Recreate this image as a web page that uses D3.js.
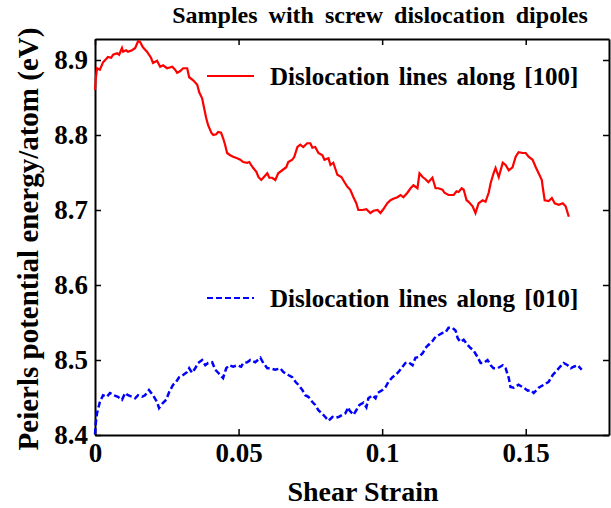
<!DOCTYPE html>
<html>
<head>
<meta charset="utf-8">
<script src="https://cdn.jsdelivr.net/npm/d3@7"></script>
<style>
  body { margin: 0; background: #fff; }
  text { font-family: "Liberation Serif", "Times New Roman", serif; font-weight: bold; }
</style>
</head>
<body>
<div id="container"></div>
<script>
/* CONSTANTS AND GLOBALS */
const width = 611;
const height = 508;
const margin = { top: 39, right: 2, bottom: 73, left: 95 };

/* DATA */
const strain100 = [0, 0.0003, 0.0007, 0.0017, 0.0028, 0.0038, 0.0045, 0.0056, 0.0063, 0.0077, 0.0084, 0.0094, 0.0098, 0.0108, 0.0115, 0.0129, 0.0140, 0.0150, 0.0157, 0.0167, 0.0181, 0.0195, 0.0202, 0.0216, 0.0227, 0.0237, 0.0251, 0.0269, 0.0279, 0.0286, 0.0296, 0.0307, 0.0321, 0.0328, 0.0342, 0.0356, 0.0363, 0.0373, 0.0380, 0.0387, 0.0394, 0.0405, 0.0412, 0.0422, 0.0429, 0.0439, 0.0446, 0.0453, 0.0460, 0.0471, 0.0481, 0.0495, 0.0506, 0.0516, 0.0530, 0.0537, 0.0551, 0.0562, 0.0569, 0.0579, 0.0586, 0.0600, 0.0607, 0.0617, 0.0628, 0.0638, 0.0652, 0.0666, 0.0673, 0.0687, 0.0694, 0.0705, 0.0715, 0.0725, 0.0739, 0.0750, 0.0757, 0.0767, 0.0778, 0.0792, 0.0799, 0.0813, 0.0820, 0.0830, 0.0844, 0.0858, 0.0869, 0.0879, 0.0889, 0.0900, 0.0910, 0.0917, 0.0931, 0.0945, 0.0959, 0.0970, 0.0984, 0.0994, 0.1004, 0.1018, 0.1029, 0.1039, 0.1053, 0.1064, 0.1074, 0.1088, 0.1099, 0.1109, 0.1123, 0.1130, 0.1141, 0.1151, 0.1161, 0.1175, 0.1186, 0.1196, 0.1210, 0.1217, 0.1231, 0.1249, 0.1259, 0.1266, 0.1277, 0.1284, 0.1294, 0.1301, 0.1315, 0.1325, 0.1336, 0.1350, 0.1360, 0.1371, 0.1378, 0.1388, 0.1395, 0.1406, 0.1420, 0.1430, 0.1441, 0.1454, 0.1465, 0.1475, 0.1489, 0.1500, 0.1510, 0.1524, 0.1535, 0.1545, 0.1556, 0.1559, 0.1566, 0.1580, 0.1591, 0.1601, 0.1615, 0.1629, 0.1639, 0.1650];
const energy100 = [8.860, 8.876, 8.889, 8.887, 8.897, 8.901, 8.904, 8.903, 8.907, 8.909, 8.907, 8.916, 8.911, 8.913, 8.911, 8.913, 8.916, 8.925, 8.924, 8.917, 8.911, 8.903, 8.896, 8.899, 8.891, 8.893, 8.889, 8.891, 8.887, 8.883, 8.885, 8.889, 8.889, 8.877, 8.873, 8.867, 8.857, 8.849, 8.836, 8.823, 8.813, 8.803, 8.800, 8.801, 8.804, 8.803, 8.796, 8.787, 8.776, 8.773, 8.771, 8.769, 8.767, 8.764, 8.763, 8.764, 8.756, 8.751, 8.744, 8.740, 8.743, 8.749, 8.743, 8.743, 8.740, 8.749, 8.753, 8.757, 8.764, 8.767, 8.771, 8.784, 8.787, 8.784, 8.789, 8.789, 8.783, 8.784, 8.776, 8.773, 8.767, 8.769, 8.760, 8.763, 8.747, 8.744, 8.737, 8.731, 8.727, 8.717, 8.709, 8.700, 8.700, 8.701, 8.696, 8.699, 8.700, 8.696, 8.701, 8.709, 8.713, 8.715, 8.717, 8.720, 8.717, 8.723, 8.729, 8.733, 8.729, 8.749, 8.744, 8.741, 8.737, 8.743, 8.729, 8.729, 8.727, 8.723, 8.720, 8.720, 8.725, 8.724, 8.729, 8.727, 8.713, 8.711, 8.705, 8.696, 8.709, 8.713, 8.711, 8.723, 8.736, 8.749, 8.756, 8.744, 8.763, 8.760, 8.753, 8.757, 8.771, 8.777, 8.776, 8.776, 8.771, 8.767, 8.757, 8.749, 8.740, 8.731, 8.713, 8.712, 8.716, 8.709, 8.707, 8.709, 8.705, 8.691];

const strain010 = [0, 0.0003, 0.0007, 0.0017, 0.0028, 0.0042, 0.0052, 0.0066, 0.0080, 0.0094, 0.0105, 0.0115, 0.0129, 0.0140, 0.0150, 0.0164, 0.0174, 0.0188, 0.0202, 0.0216, 0.0223, 0.0237, 0.0248, 0.0258, 0.0272, 0.0283, 0.0293, 0.0307, 0.0321, 0.0328, 0.0338, 0.0349, 0.0359, 0.0373, 0.0384, 0.0394, 0.0408, 0.0419, 0.0429, 0.0446, 0.0457, 0.0467, 0.0481, 0.0495, 0.0509, 0.0516, 0.0530, 0.0541, 0.0558, 0.0576, 0.0586, 0.0600, 0.0610, 0.0628, 0.0645, 0.0656, 0.0673, 0.0687, 0.0698, 0.0708, 0.0722, 0.0732, 0.0743, 0.0757, 0.0767, 0.0778, 0.0792, 0.0802, 0.0813, 0.0827, 0.0837, 0.0848, 0.0862, 0.0872, 0.0882, 0.0886, 0.0900, 0.0910, 0.0921, 0.0935, 0.0945, 0.0952, 0.0966, 0.0977, 0.0984, 0.1001, 0.1012, 0.1022, 0.1036, 0.1046, 0.1057, 0.1071, 0.1081, 0.1092, 0.1106, 0.1116, 0.1127, 0.1141, 0.1151, 0.1161, 0.1175, 0.1186, 0.1196, 0.1210, 0.1221, 0.1231, 0.1245, 0.1256, 0.1263, 0.1273, 0.1284, 0.1298, 0.1308, 0.1318, 0.1332, 0.1343, 0.1353, 0.1367, 0.1378, 0.1388, 0.1402, 0.1420, 0.1430, 0.1441, 0.1447, 0.1458, 0.1475, 0.1493, 0.1507, 0.1517, 0.1528, 0.1545, 0.1563, 0.1580, 0.1594, 0.1604, 0.1615, 0.1632, 0.1646, 0.1657, 0.1667, 0.1681, 0.1695];
const energy010 = [8.401, 8.417, 8.429, 8.444, 8.453, 8.451, 8.456, 8.453, 8.451, 8.447, 8.456, 8.453, 8.451, 8.449, 8.453, 8.451, 8.453, 8.460, 8.453, 8.444, 8.436, 8.443, 8.447, 8.457, 8.467, 8.471, 8.477, 8.480, 8.484, 8.489, 8.483, 8.489, 8.496, 8.500, 8.493, 8.496, 8.497, 8.487, 8.483, 8.476, 8.489, 8.493, 8.491, 8.493, 8.491, 8.496, 8.497, 8.500, 8.497, 8.503, 8.496, 8.489, 8.489, 8.487, 8.489, 8.484, 8.480, 8.477, 8.471, 8.467, 8.460, 8.453, 8.451, 8.444, 8.440, 8.433, 8.428, 8.424, 8.419, 8.424, 8.423, 8.424, 8.427, 8.429, 8.437, 8.433, 8.427, 8.433, 8.440, 8.443, 8.437, 8.449, 8.453, 8.449, 8.456, 8.460, 8.464, 8.471, 8.477, 8.480, 8.484, 8.491, 8.496, 8.497, 8.493, 8.503, 8.504, 8.509, 8.516, 8.520, 8.525, 8.531, 8.533, 8.536, 8.537, 8.543, 8.543, 8.539, 8.529, 8.524, 8.527, 8.520, 8.516, 8.513, 8.504, 8.496, 8.496, 8.500, 8.493, 8.489, 8.489, 8.493, 8.489, 8.476, 8.464, 8.463, 8.467, 8.463, 8.459, 8.460, 8.456, 8.463, 8.467, 8.471, 8.480, 8.484, 8.489, 8.496, 8.493, 8.489, 8.491, 8.493, 8.487];

const xTicks = [0, 0.05, 0.1, 0.15];
const yTicks = [8.4, 8.5, 8.6, 8.7, 8.8, 8.9];
const seriesNames = ["Dislocation lines along [100]", "Dislocation lines along [010]"];

/* SCALES */
const svg = d3.select("#container")
  .append("svg")
  .attr("width", width)
  .attr("height", height);

const xScale = d3.scaleLinear()
  .domain([0, 0.179])
  .range([margin.left, width - margin.right]);

const yScale = d3.scaleLinear()
  .domain([8.4, 8.928])
  .range([height - margin.bottom, margin.top]);

/* AXES */
const fmtX = d => d === 0 ? "0" : String(d);

svg.append("g")
  .attr("class", "axis")
  .attr("transform", `translate(0, ${height - margin.bottom})`)
  .call(d3.axisBottom(xScale).tickValues(xTicks).tickFormat(fmtX).tickSizeInner(-6).tickSizeOuter(0).tickPadding(8));

svg.append("g")
  .attr("transform", `translate(0, ${margin.top})`)
  .call(d3.axisTop(xScale).tickValues(xTicks).tickFormat("").tickSizeInner(-6).tickSizeOuter(0));

svg.append("g")
  .attr("class", "axis")
  .attr("transform", `translate(${margin.left}, 0)`)
  .call(d3.axisLeft(yScale).tickValues(yTicks).tickFormat(d3.format(".1f")).tickSizeInner(-6).tickSizeOuter(0).tickPadding(7));

svg.append("g")
  .attr("transform", `translate(${width - margin.right}, 0)`)
  .call(d3.axisRight(yScale).tickValues(yTicks).tickFormat("").tickSizeInner(-6).tickSizeOuter(0));

svg.selectAll(".domain").attr("stroke", "#000").attr("stroke-width", 2);
svg.selectAll(".tick line").attr("stroke", "#000").attr("stroke-width", 1.5);
svg.selectAll(".axis text")
  .attr("fill", "#000")
  .style("font-size", "27px")
  .style("font-family", "'Liberation Serif', serif")
  .style("font-weight", "bold");

/* LINES */
const line = d3.line()
  .x(d => xScale(d[0]))
  .y(d => yScale(d[1]));

const red = d3.zip(strain100, energy100);
const blue = d3.zip(strain010, energy010);

svg.append("path")
  .datum(red)
  .attr("fill", "none")
  .attr("stroke", "#ff0000")
  .attr("stroke-width", 2.2)
  .attr("d", line);

svg.append("path")
  .datum(blue)
  .attr("fill", "none")
  .attr("stroke", "#0000ff")
  .attr("stroke-width", 2.5)
  .attr("stroke-dasharray", "6,3")
  .attr("d", line);

/* LEGENDS */
const legends = [
  { name: seriesNames[0], color: "#ff0000", dash: null, y: 76 },
  { name: seriesNames[1], color: "#0000ff", dash: "6,3", y: 298 }
];

legends.forEach(l => {
  svg.append("line")
    .attr("x1", 207).attr("x2", 254)
    .attr("y1", l.y).attr("y2", l.y)
    .attr("stroke", l.color)
    .attr("stroke-width", 2.2)
    .attr("stroke-dasharray", l.dash);
  svg.append("text")
    .attr("x", 270)
    .attr("y", l.y + 9)
    .style("font-size", "25px")
    .style("word-spacing", "3px")
    .text(l.name);
});

/* TITLES */
svg.append("text")
  .attr("x", 380)
  .attr("y", 23)
  .attr("text-anchor", "middle")
  .style("font-size", "24px")
  .style("word-spacing", "5px")
  .text("Samples with screw dislocation dipoles");

svg.append("text")
  .attr("x", 363)
  .attr("y", 501)
  .attr("text-anchor", "middle")
  .style("font-size", "28px")
  .text("Shear Strain");

svg.append("text")
  .attr("transform", `translate(38, 239) rotate(-90)`)
  .attr("text-anchor", "middle")
  .style("font-size", "29px")
  .text("Peierls potential energy/atom (eV)");
</script>
</body>
</html>
